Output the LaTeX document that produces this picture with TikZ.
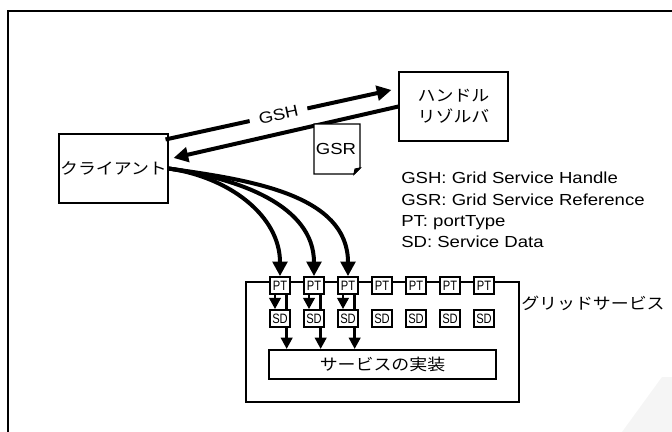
\documentclass[tikz,border=0pt]{standalone}
\usepackage{fontspec}
\setmainfont[FakeStretch=1.16]{Liberation Sans}
\newfontfamily\jpfont[FakeStretch=1.12]{Noto Sans CJK JP}
\newfontfamily\tagfont[FakeStretch=0.82]{Liberation Sans}
\usetikzlibrary{arrows.meta}

\tikzset{
    plainbox/.style={draw, line width=0.8pt, fill=white, inner sep=0pt, align=center},
    tagbox/.style={draw, line width=1.5pt, fill=white, inner sep=0pt,
        minimum width=15.5pt, minimum height=12.5pt, font=\tagfont\fontsize{10.2}{10.2}\selectfont},
    bigarrow/.style={line width=3pt, -{Triangle[length=11pt,width=11pt]}},
    smallarrow/.style={line width=2.2pt, -{Triangle[length=8.5pt,width=8.5pt]}},
}

\begin{document}
\begin{tikzpicture}[x=0.75pt, y=-0.75pt, font=\fontsize{12}{16}\selectfont]
    % Page size and outer frame
    \useasboundingbox (0,0) rectangle (672,432);
    \clip (0,0) rectangle (672,432);
    \fill[black!4] (622,432) -- (662,377) -- (680,377) -- (680,432) -- cycle;
    \draw[line width=1.6pt] (8,450) -- (8,11) -- (690,11);

    % Client and handle resolver
    \node[plainbox, minimum width=81.75pt, minimum height=51.75pt, font=\jpfont\fontsize{12}{16}\selectfont]
        (client) at (113.5,168.5) {クライアント};
    \node[plainbox, minimum width=81.75pt, minimum height=51.75pt, font=\jpfont\fontsize{12}{15.8}\selectfont]
        (resolver) at (453.5,106.5) {ハンドル\\リゾルバ};

    % GSH request and GSR answer
    \coordinate (gshStart) at ([xshift=-2.25pt, yshift=-4.5pt]client.north east);
    \coordinate (gshEnd) at ([xshift=-5.25pt, yshift=12.4pt]resolver.west);
    \draw[bigarrow] (gshStart) -- node[sloped, fill=white, inner xsep=7pt, inner ysep=1pt] (gshLabel) {GSH} (gshEnd);
    \coordinate (gsrEnd) at ([xshift=3.75pt, yshift=7.9pt]client.east);
    \draw[bigarrow] (resolver.west) -- (gsrEnd);

    % GSR document with folded corner
    \draw[line width=1.1pt, fill=white] (314,124) -- (360,124) -- (360,168) -- (354,174) -- (314,174) -- cycle;
    \draw[line width=0.8pt, fill=black] (354,174) -- (355,169) -- (360,168) -- cycle;
    \node (gsrLabel) at (336,149) {GSR};

    % Legend
    \node[anchor=north west, align=left, inner sep=0pt] (legend) at (401,172)
        {GSH: Grid Service Handle\\GSR: Grid Service Reference\\PT: portType\\SD: Service Data};

    % Grid service
    \node[draw, line width=1.5pt, minimum width=204.75pt, minimum height=90pt] (grid) at (382.5,342) {};
    \node[anchor=west, inner sep=0pt, font=\jpfont\fontsize{12}{16}\selectfont] (gridLabel) at (521,303) {グリッドサービス};
    \node[draw, line width=1.5pt, fill=white, minimum width=170.25pt, minimum height=21.75pt,
        font=\jpfont\fontsize{12}{16}\selectfont] (impl) at (382.5,364.5) {サービスの実装};

    % portTypes
    \foreach \i in {1,...,7}
        \node[tagbox] (pt\i) at (246+34*\i,285.5) {PT};

    % portType to implementation
    \foreach \i in {1,2,3} {
        \coordinate (ptOut\i) at ([xshift=5pt]pt\i.south);
        \draw[smallarrow] (ptOut\i) -- (ptOut\i |- impl.north);
    }

    % Service data
    \foreach \i in {1,...,7}
        \node[tagbox] (sd\i) at (246+34*\i,318.5) {SD};
    \foreach \i in {1,2,3}
        \draw[smallarrow] ([xshift=-3.75pt]pt\i.south) -- ([xshift=-3.75pt]sd\i.north);

    % Client calls to the portTypes
    \foreach \i in {1,2,3}
        \draw[bigarrow] (client.east) to[out=-8, in=90] (pt\i.north);
\end{tikzpicture}
\end{document}
